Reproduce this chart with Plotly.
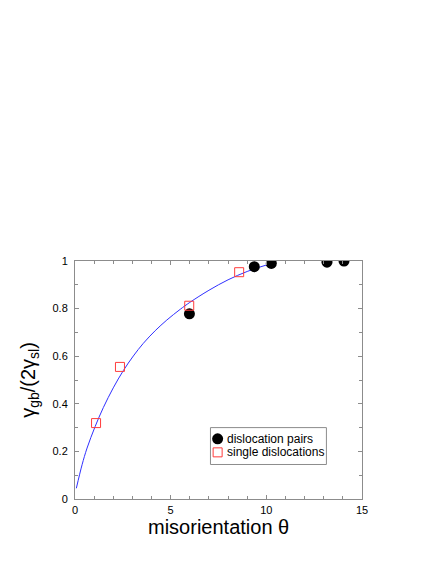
import plotly.graph_objects as go

# --- data ---
pairs_theta = [5.98, 9.37, 10.26, 13.17, 14.06]
pairs_gamma = [0.778, 0.976, 0.990, 0.995, 1.0]

single_theta = [1.10, 2.35, 5.97, 8.58]
single_gamma = [0.319, 0.555, 0.812, 0.953]

fit_theta = [0.07, 0.37, 0.63, 1.05, 1.48, 2.0, 2.53, 3.05, 3.57, 4.19, 4.8, 5.5, 6.0, 7.0, 8.0, 9.0, 10.0, 10.5]
fit_gamma = [0.045, 0.144, 0.214, 0.304, 0.384, 0.467, 0.540, 0.601, 0.654, 0.707, 0.752, 0.797, 0.826, 0.877, 0.921, 0.956, 0.983, 0.994]

legend_labels = ["dislocation pairs", "single dislocations"]
x_title = "misorientation θ"
y_title = "γ<sub>gb</sub>/(2γ<sub>sl</sub>)"

FONT = "Liberation Sans, Arial, Helvetica, sans-serif"
AXC = "#8c8c8c"
RED = "rgb(255,60,60)"

fig = go.Figure()
fig.add_trace(go.Scatter(x=fit_theta, y=fit_gamma, mode="lines",
                         line=dict(color="#3030ff", width=1, shape="spline"),
                         showlegend=False, hoverinfo="skip"))
fig.add_trace(go.Scatter(x=pairs_theta, y=pairs_gamma, mode="markers",
                         marker=dict(symbol="circle", size=11, color="black"),
                         name=legend_labels[0], showlegend=False))
fig.add_trace(go.Scatter(x=single_theta, y=single_gamma, mode="markers",
                         marker=dict(symbol="square-open", size=9, color=RED,
                                     line=dict(width=1, color=RED)),
                         name=legend_labels[1], showlegend=False))

axis_common = dict(showline=True, linecolor=AXC, linewidth=1, mirror="ticks",
                   ticks="inside", ticklen=4, tickcolor=AXC, tickwidth=1,
                   showgrid=False, zeroline=False,
                   tickfont=dict(family=FONT, size=11, color="black"))

fig.update_xaxes(range=[0, 15], dtick=5, tick0=0,
                 minor=dict(dtick=1, ticks="inside", ticklen=3, tickcolor=AXC),
                 ticklabelstandoff=1,
                 **axis_common)
fig.update_yaxes(range=[0, 1], dtick=0.2, tick0=0,
                 minor=dict(dtick=0.1, ticks="inside", ticklen=3, tickcolor=AXC),
                 ticklabelstandoff=4,
                 title=dict(text=y_title, font=dict(family=FONT, size=20, color="black"),
                            standoff=11),
                 **axis_common)

# legend box drawn manually to match the reference layout
lx0, lx1, ly0, ly1 = 0.472, 0.876, 0.145, 0.300
mx = 0.497
rows_y = [0.253, 0.196]
shapes = [
    dict(type="rect", xref="paper", yref="paper", x0=lx0, x1=lx1, y0=ly0, y1=ly1,
         line=dict(color=AXC, width=1), fillcolor="white", layer="above"),
    dict(type="circle", xref="paper", yref="paper", xsizemode="pixel", ysizemode="pixel",
         xanchor=mx, yanchor=rows_y[0], x0=-5.5, x1=5.5, y0=-5.5, y1=5.5,
         fillcolor="black", line=dict(color="black", width=0), layer="above"),
    dict(type="rect", xref="paper", yref="paper", xsizemode="pixel", ysizemode="pixel",
         xanchor=mx, yanchor=rows_y[1], x0=-4.5, x1=4.5, y0=-4.5, y1=4.5,
         fillcolor="rgba(0,0,0,0)", line=dict(color=RED, width=1), layer="above"),
]
annotations = [
    dict(text=legend_labels[i], xref="paper", yref="paper", x=0.522, y=rows_y[i],
         xanchor="left", yanchor="middle", showarrow=False,
         font=dict(family=FONT, size=12, color="black"))
    for i in range(2)
]
annotations.append(dict(text=x_title, xref="paper", yref="paper", x=0.5, y=0,
                        xanchor="center", yanchor="top", yshift=-16, showarrow=False,
                        borderpad=0,
                        font=dict(family=FONT, size=20, color="black")))

# page body has an 8px default margin, so the figure is 8px smaller than the window
fig.update_layout(width=428, height=556,
                  margin=dict(l=67, r=74, t=253, b=65, pad=0),
                  paper_bgcolor="white", plot_bgcolor="white",
                  font=dict(family=FONT, color="black"),
                  shapes=shapes, annotations=annotations, showlegend=False)

fig.write_html("out.html")
